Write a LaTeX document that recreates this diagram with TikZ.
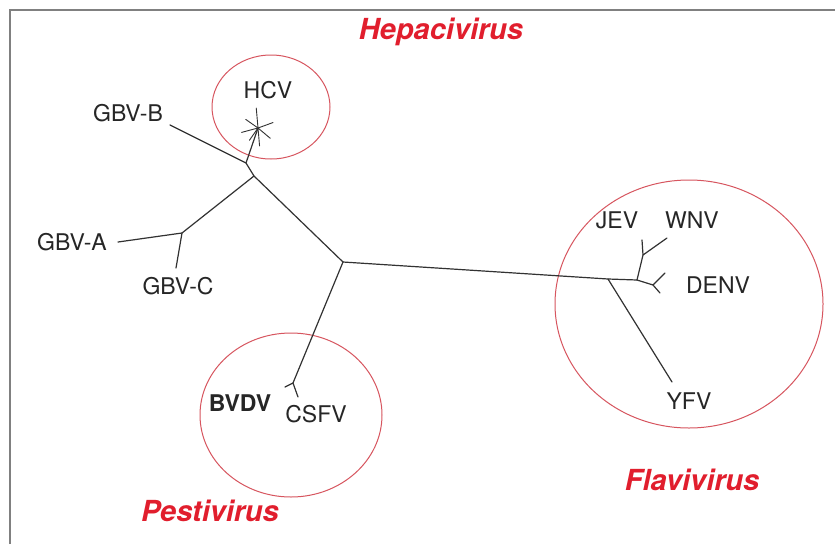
\documentclass[tikz,border=0pt]{standalone}
\usepackage{fontspec}
\setmainfont{TeX Gyre Heros}
\begin{document}
\begin{tikzpicture}[x=1pt,y=-1pt]
\definecolor{lbl}{RGB}{225,30,45}
\definecolor{ring}{RGB}{215,85,95}
\definecolor{br}{RGB}{50,50,50}
\tikzset{
  branch/.style={draw=br,line width=1.2pt,line cap=round,line join=round},
  taxon/.style={inner sep=0pt,text height=0.72em,text depth=0pt,font=\fontsize{23}{27}\selectfont,text=black!85},
  genus/.style={inner sep=0pt,text height=0.72em,text depth=0pt,font=\fontsize{29}{33}\selectfont\bfseries\itshape,text=lbl},
  clade/.style={draw=ring,line width=1pt}
}
\useasboundingbox (0,0) rectangle (835,544);
\fill[white] (0,0) rectangle (835,544);
\draw[gray,line width=1.5pt] (10,544) -- (10,10) -- (835,10);

% clade circles
\draw[clade] (271,107) ellipse [x radius=59,y radius=52];
\draw[clade] (291,415) ellipse [x radius=91,y radius=82];
\draw[clade] (689,304) ellipse [x radius=134,y radius=124];

% tree coordinates
\coordinate (C) at (343,262);
\coordinate (N1) at (246,163);
\coordinate (N2) at (254,176);
\coordinate (GB) at (170,125);
\coordinate (N3) at (182,233);
\coordinate (GA) at (118,242);
\coordinate (GC) at (176,268);
\coordinate (S) at (258,128);
\coordinate (P) at (293,383);
\coordinate (PB) at (285,387);
\coordinate (PC) at (298,397);
\coordinate (F1) at (608,279);
\coordinate (F2) at (637,280);
\coordinate (YF) at (672,382);
\coordinate (JW) at (643,255);
\coordinate (JE) at (642,240);
\coordinate (WN) at (667,238);
\coordinate (DE) at (653,285);
\coordinate (D1) at (665,273);
\coordinate (D2) at (660,293);

\path[branch] (GB) -- (N1) -- (N2) -- (C);
\path[branch] (N1) -- (S);
\path[branch] (N2) -- (N3) -- (GA);
\path[branch] (N3) -- (GC);
\path[branch] (C) -- (P) -- (PB);
\path[branch] (P) -- (PC);
\path[branch] (C) -- (F1) -- (F2);
\path[branch] (F1) -- (YF);
\path[branch] (F2) -- (JW) -- (JE);
\path[branch] (JW) -- (WN);
\path[branch] (F2) -- (DE) -- (D1);
\path[branch] (DE) -- (D2);
% HCV star spokes
\foreach \a/\r in {85/18,40/16,-20/16,-95/20,-145/15,165/17,125/15} {
  \path[branch,line width=0.9pt] (S) -- ++(\a:\r);
}

% taxa
\node[taxon] (hcv) at (268,95) {HCV};
\node[taxon] (gbvb) at (128,118) {GBV-B};
\node[taxon] (gbva) at (72,247) {GBV-A};
\node[taxon] (gbvc) at (178,291) {GBV-C};
\node[taxon,font=\fontsize{23}{27}\selectfont\bfseries] (bvdv) at (240,408) {BVDV};
\node[taxon] (csfv) at (316,419) {CSFV};
\node[taxon] (jev) at (617,225) {JEV};
\node[taxon] (wnv) at (692,225) {WNV};
\node[taxon] (denv) at (718,290) {DENV};
\node[taxon] (yfv) at (689,406) {YFV};

% genera
\node[genus] (hep) at (441,36) {Hepacivirus};
\node[genus] (pes) at (210,518) {Pestivirus};
\node[genus] (fla) at (692,487) {Flavivirus};
\end{tikzpicture}
\end{document}
